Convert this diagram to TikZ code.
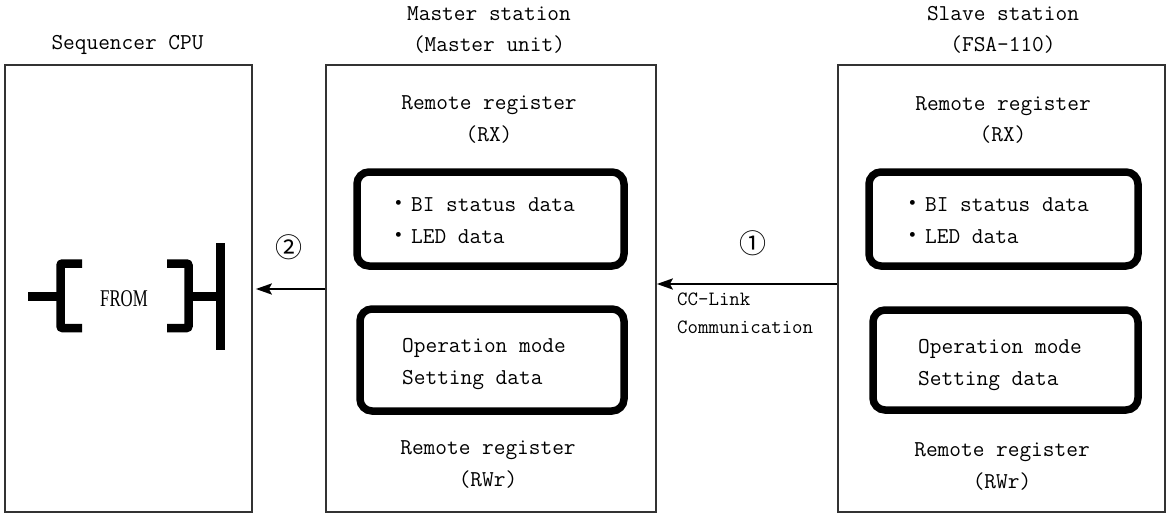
\documentclass[tikz,border=0pt]{standalone}
\usepackage{fontspec}
\usepackage{graphicx}
\newfontfamily\cjkfont{Noto Sans CJK JP}
\newfontfamily\ladderfont{Liberation Serif}
\usetikzlibrary{positioning,arrows.meta}

\tikzset{
  station/.style={draw=black!80, line width=1.6pt, minimum height=447pt, inner sep=0pt},
  regbox/.style={draw, line width=7.5pt, rounded corners=12pt, inner sep=0pt},
  txt/.style={font=\ttfamily\fontsize{22.7}{31.5}\selectfont, inner sep=0pt, anchor=base},
  listtxt/.style={txt, align=left, anchor=base west},
  ladder/.style={line width=8.5pt, rounded corners=2pt},
  flow/.style={line width=2.5pt, -{Stealth[length=16pt,width=11pt,inset=3pt]}},
  num/.style={font=\cjkfont\fontsize{27}{27}\selectfont, inner sep=0pt}
}
\newcommand{\dotitem}{\makebox[1.1em][c]{\cjkfont ・}}

\begin{document}
\begin{tikzpicture}[x=1pt,y=-1pt]
  \useasboundingbox (0,0) rectangle (1169,516);
  % stations
  \node[station, minimum width=247pt] (cpu) at (128.5,288.5) {};
  \node[station, minimum width=330pt] (master) at (491,288.5) {};
  \node[station, minimum width=327pt] (slave) at (1001.5,288.5) {};

  % titles (multi-line nodes sit on the baseline of their last line)
  \node[txt] (cpu_t) at (127.5,50) {Sequencer CPU};
  \node[txt, align=center] (master_t) at (489,52) {Master station\\(Master unit)};
  \node[txt, align=center] (slave_t) at (1003,52) {Slave station\\(FSA-110)};

  % master station
  \node[txt, align=center] (master_rx) at (489,141) {Remote register\\(RX)};
  \node[regbox, minimum width=267pt, minimum height=94pt] (master_bi) at (490.5,219) {};
  \node[listtxt] (master_bi_t) at (386,243) {\dotitem BI status data\\\dotitem LED data};
  \node[regbox, minimum width=264pt, minimum height=102pt] (master_op) at (492,360) {};
  \node[listtxt] (master_op_t) at (402,384) {Operation mode\\Setting data};
  \node[txt, align=center] (master_rwr) at (488,486) {Remote register\\(RWr)};

  % slave station
  \node[txt, align=center] (slave_rx) at (1003,142) {Remote register\\(RX)};
  \node[regbox, minimum width=269pt, minimum height=94pt] (slave_bi) at (1003.5,219) {};
  \node[listtxt] (slave_bi_t) at (900,243) {\dotitem BI status data\\\dotitem LED data};
  \node[regbox, minimum width=265pt, minimum height=100pt] (slave_op) at (1005.5,360) {};
  \node[listtxt] (slave_op_t) at (918,385) {Operation mode\\Setting data};
  \node[txt, align=center] (slave_rwr) at (1002,488) {Remote register\\(RWr)};

  % FROM instruction
  \node[inner sep=0pt, font=\ladderfont\fontsize{24}{24}\selectfont] (from) at (124,299) {\scalebox{0.7}[1]{FROM}};
  \draw[ladder] (28,296.5) -- (60.5,296.5);
  \draw[ladder] (82,263.5) -- (60.5,263.5) -- (60.5,328) -- (82,328);
  \draw[ladder] (167,263.5) -- (188.5,263.5) -- (188.5,328) -- (167,328);
  \draw[ladder] (188.5,296.5) -- (216,296.5);
  \draw[line width=9pt] (220.5,243) -- (220.5,350);

  % data flow
  \draw[flow] (slave.west |- 0,284) -- (master.east |- 0,284);
  \draw[flow, shorten >=3pt] (master.west |- 0,289) -- (cpu.east |- 0,289);
  \node[num] (n1) at (753,243) {①};
  \node[num] (n2) at (289,247) {②};
  \node[listtxt, font=\ttfamily\fontsize{20.3}{28}\selectfont] (cclink) at (677,333) {CC-Link\\Communication};
\end{tikzpicture}
\end{document}
